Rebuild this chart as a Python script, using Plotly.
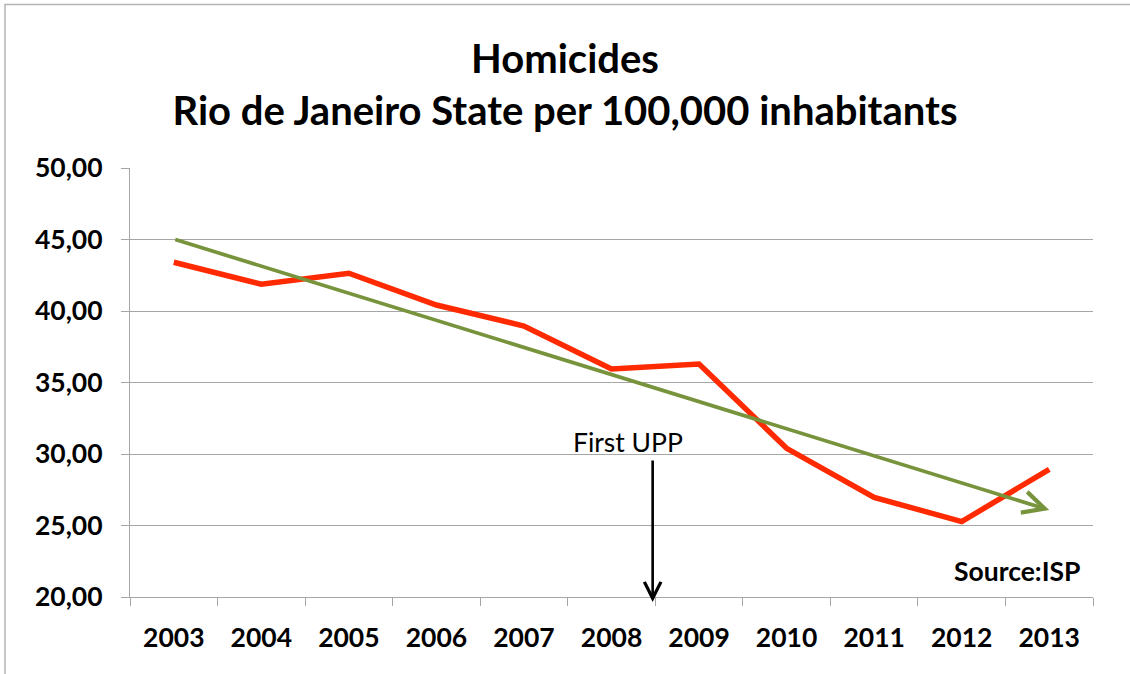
import plotly.graph_objects as go

# data
years = ["2003", "2004", "2005", "2006", "2007", "2008", "2009", "2010", "2011", "2012", "2013"]
homicides = [43.41, 41.87, 42.64, 40.42, 38.95, 35.94, 36.29, 30.40, 26.97, 25.27, 28.93]
trend_ends = [45.03, 26.08]  # linear trend at 2003 and 2013
y_ticks = [20, 25, 30, 35, 40, 45, 50]
y_labels = ["20,00", "25,00", "30,00", "35,00", "40,00", "45,00", "50,00"]

FONT = "Lato"
GRID = "#A6A6A6"
TXT = 26.5
x_pos = list(range(len(years)))

fig = go.Figure()

# homicide rate line
fig.add_trace(
    go.Scatter(
        x=x_pos,
        y=homicides,
        mode="lines",
        line=dict(color="#FF2A00", width=5.5),
        showlegend=False,
        hoverinfo="skip",
    )
)

annotations = [
    # green trend arrow
    dict(
        x=x_pos[-1], y=trend_ends[1], ax=x_pos[0], ay=trend_ends[0],
        xref="x", yref="y", axref="x", ayref="y",
        text="", showarrow=True, arrowhead=5, arrowsize=1.15,
        arrowwidth=3.7, arrowcolor="#77933C", standoff=0, startstandoff=0,
    ),
    # first UPP marker
    dict(
        x=5.47, y=19.65, ax=5.47, ay=29.65,
        xref="x", yref="y", axref="x", ayref="y",
        text="", showarrow=True, arrowhead=5, arrowsize=1.25,
        arrowwidth=2.6, arrowcolor="black", standoff=0,
    ),
    dict(
        x=5.19, y=30.86, xref="x", yref="y", text="First UPP", showarrow=False,
        font=dict(family=FONT, size=TXT, color="black"),
    ),
    dict(
        x=9.63, y=21.82, xref="x", yref="y", text="<b>Source:ISP</b>", showarrow=False,
        font=dict(family=FONT, size=TXT, color="black"),
    ),
]

# outer chart border (only top and left edges are visible)
shapes = [
    dict(
        type="rect", xref="paper", yref="paper",
        x0=(5 - 130) / 963, x1=(1140 - 130) / 963,
        y0=(597 - 690) / 429, y1=(597 - 4.5) / 429,
        line=dict(color="#B4B4B4", width=1.5), layer="below",
    )
]

fig.update_layout(
    width=1130,
    height=674,
    autosize=False,
    margin=dict(l=130, r=37, t=168, b=77),
    paper_bgcolor="white",
    plot_bgcolor="white",
    title=dict(
        text="<b>Homicides<br>Rio de Janeiro State per 100,000 inhabitants</b>",
        x=0.5, xref="container", xanchor="center",
        y=1 - 73 / 674, yref="container", yanchor="top",
        font=dict(family=FONT, size=40, color="black"),
    ),
    xaxis=dict(
        range=[-0.5, 10.5],
        tickvals=x_pos,
        ticktext=years,
        ticks="",
        showgrid=False,
        zeroline=False,
        showline=True,
        linecolor=GRID,
        linewidth=1.2,
        tickfont=dict(family=FONT, size=TXT, color="black", weight="bold"),
        ticklabelstandoff=17,
        minor=dict(tick0=-0.5, dtick=1, ticks="outside", ticklen=8, tickcolor=GRID, tickwidth=1.2, showgrid=False),
    ),
    yaxis=dict(
        range=[20, 50],
        tickvals=y_ticks,
        ticktext=y_labels,
        ticks="outside",
        ticklen=8,
        tickcolor=GRID,
        tickwidth=1.2,
        showgrid=True,
        gridcolor=GRID,
        gridwidth=1.2,
        zeroline=False,
        showline=True,
        linecolor=GRID,
        linewidth=1.2,
        tickfont=dict(family=FONT, size=TXT, color="black", weight="bold"),
        ticklabelstandoff=13,
    ),
    annotations=annotations,
    shapes=shapes,
)

# drop the default page margin so the chart fills the window exactly
fig.write_html(
    "out.html",
    config={"displayModeBar": False},
    post_script="document.body.style.margin='0';",
)
